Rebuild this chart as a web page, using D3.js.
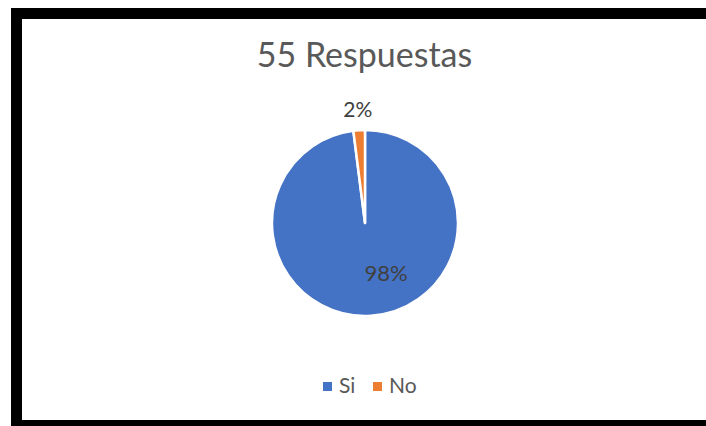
<!DOCTYPE html>
<html>
<head>
<meta charset="utf-8">
<script src="https://cdn.jsdelivr.net/npm/d3@7"></script>
<style>
  html, body { margin: 0; padding: 0; background: #fff; }
  svg { display: block; }
  text { font-family: Lato, "Open Sans", sans-serif; }
</style>
</head>
<body>
<svg id="chart" width="706" height="426"></svg>
<script>
// Survey answers
const titleText = "55 Respuestas";
const categories = ["Si", "No"];
const percents = [98, 2];
const labels = ["98%", "2%"];
const colors = ["#4472C4", "#ED7D31"];

const W = 706, H = 426;
const svg = d3.select("#chart");

// Framed chart area (right edge runs off the page)
svg.append("rect")
  .attr("x", 16.5).attr("y", 13.5)
  .attr("width", 760).attr("height", 412)
  .attr("fill", "#fff")
  .attr("stroke", "#000")
  .attr("stroke-width", 11);

// Title
svg.append("text")
  .attr("x", 364.5).attr("y", 67)
  .attr("text-anchor", "middle")
  .attr("font-size", 34)
  .attr("fill", "#595959")
  .text(titleText);

// Pie
const cx = 365, cy = 223, r = 93;
const data = categories.map((c, i) => ({ cat: c, value: percents[i], label: labels[i], color: colors[i] }));
const pie = d3.pie().value(d => d.value).sort(null);
const arc = d3.arc().innerRadius(0).outerRadius(r);
const arcs = pie(data);

const g = svg.append("g").attr("transform", `translate(${cx},${cy})`);
g.selectAll("path.slice")
  .data(arcs)
  .join("path")
  .attr("class", "slice")
  .attr("d", arc)
  .attr("fill", d => d.data.color)
  .attr("stroke", "#fff")
  .attr("stroke-width", 2.5)
  .attr("stroke-linejoin", "round");

// Data labels: large slice inside, small slice outside
function labelPos(d) {
  const mid = (d.startAngle + d.endAngle) / 2;
  if (d.endAngle - d.startAngle > Math.PI) {
    const a = mid - 0.34, rr = r * 0.58;
    return [rr * Math.sin(a), -rr * Math.cos(a)];
  }
  const a = mid, rr = r * 1.23;
  return [rr * Math.sin(a), -rr * Math.cos(a)];
}
g.selectAll("text.lbl")
  .data(arcs)
  .join("text")
  .attr("class", "lbl")
  .attr("x", d => labelPos(d)[0])
  .attr("y", d => labelPos(d)[1])
  .attr("text-anchor", "middle")
  .attr("dominant-baseline", "central")
  .attr("font-size", d => d.endAngle - d.startAngle > Math.PI ? 22 : 21)
  .attr("fill", "#404040")
  .text(d => d.data.label);

// Legend
const legendX = [323, 373];
const lg = svg.append("g");
data.forEach((d, i) => {
  lg.append("rect")
    .attr("x", legendX[i]).attr("y", 382)
    .attr("width", 9).attr("height", 9)
    .attr("fill", d.color);
  lg.append("text")
    .attr("x", legendX[i] + 16).attr("y", 393)
    .attr("font-size", 21)
    .attr("fill", "#595959")
    .text(d.cat);
});
</script>
</body>
</html>
